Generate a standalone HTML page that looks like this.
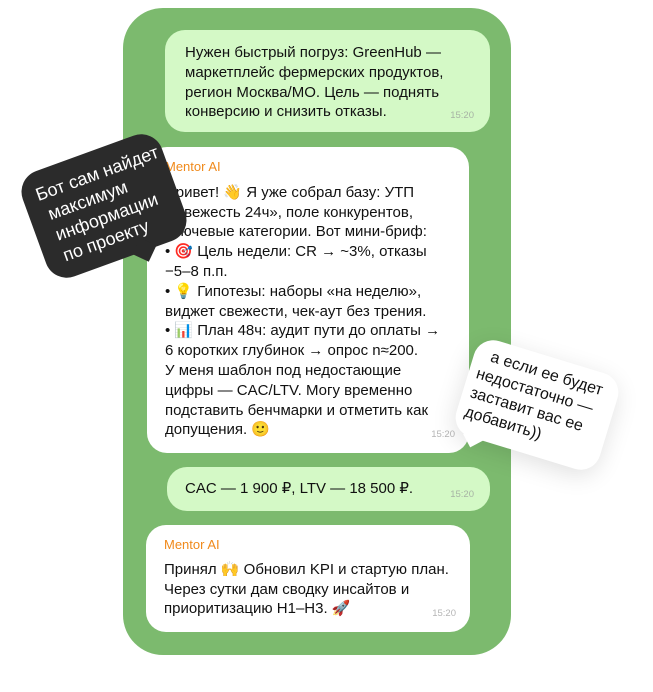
<!DOCTYPE html>
<html><head><meta charset="utf-8"><style>
*{margin:0;padding:0;box-sizing:border-box}
body{width:653px;height:692px;background:#fff;position:relative;overflow:hidden;font-family:"Liberation Sans","DejaVu Sans",sans-serif;color:#111}
.panel{position:absolute;left:123px;top:8px;width:388px;height:647px;background:#7cba6e;border-radius:40px}
.b{position:absolute;border-radius:20px;font-size:15px;line-height:19.8px}
.g{background:#d4f9c6}
.w{background:#fff}
.t{position:absolute;font-size:9.5px;color:#a7b3a4}
.w .t{color:#b5b5b5}
.n{color:#f08a1c;font-size:13px;margin-bottom:6px}
.tx{position:absolute}
.stk{position:absolute;font-size:17px;line-height:21px}
</style></head><body>
<div class="panel"></div>

<div class="b g" style="left:165px;top:30px;width:325px;height:102px;">
 <div class="tx" style="left:20px;top:13px;width:300px">Нужен быстрый погруз: GreenHub —<br>маркетплейс фермерских продуктов,<br>регион Москва/МО. Цель — поднять<br>конверсию и снизить отказы.</div>
 <div class="t" style="right:16px;bottom:6px">15:20</div>
</div>

<div class="b w" style="left:147px;top:147px;width:322px;height:306px;">
 <div class="tx" style="left:18px;top:10px;width:300px"><div class="n">Mentor AI</div>
 Привет! 👋 Я уже собрал базу: УТП<br>«Свежесть 24ч», поле конкурентов,<br>ключевые категории. Вот мини-бриф:<br>• 🎯 Цель недели: CR → ~3%, отказы<br>−5–8 п.п.<br>• 💡 Гипотезы: наборы «на неделю»,<br>виджет свежести, чек-аут без трения.<br>• 📊 План 48ч: аудит пути до оплаты →<br>6 коротких глубинок → опрос n≈200.<br>У меня шаблон под недостающие<br>цифры — CAC/LTV. Могу временно<br>подставить бенчмарки и отметить как<br>допущения. 🙂</div>
 <div class="t" style="right:14px;bottom:8px">15:20</div>
</div>

<div class="b g" style="left:167px;top:467px;width:323px;height:44px;">
 <div class="tx" style="left:18px;top:12px">CAC — 1 900 ₽, LTV — 18 500 ₽.</div>
 <div class="t" style="right:16px;bottom:6px">15:20</div>
</div>

<div class="b w" style="left:146px;top:525px;width:324px;height:107px;">
 <div class="tx" style="left:18px;top:10px;width:300px"><div class="n" style="margin-bottom:5px">Mentor AI</div>
 Принял 🙌 Обновил KPI и стартую план.<br>Через сутки дам сводку инсайтов и<br>приоритизацию H1–H3. 🚀</div>
 <div class="t" style="right:14px;bottom:8px">15:20</div>
</div>

<div style="position:absolute;left:30px;top:150px;width:148px;height:112px;background:#2b2b2b;border-radius:22px;transform:rotate(-20deg);">
 <div style="position:absolute;left:88px;bottom:-8px;width:18px;height:18px;background:#2b2b2b;transform:rotate(45deg)"></div>
 <div class="stk" style="left:14px;top:12px;width:140px;color:#fff;font-size:18px;line-height:22px">Бот сам найдет<br>&nbsp;максимум<br>&nbsp;информации<br>&nbsp;по проекту</div>
</div>

<div style="position:absolute;left:462px;top:355px;width:150px;height:100px;background:#fff;border-radius:20px;transform:rotate(17deg);box-shadow:0 6px 24px rgba(0,0,0,.12)">
 <div style="position:absolute;left:16px;bottom:-7px;width:15px;height:15px;background:#fff;transform:rotate(45deg)"></div>
 <div class="stk" style="left:8px;top:8px;width:150px;color:#111;font-size:16px;line-height:20px">&nbsp;&nbsp;а если ее будет<br>недостаточно —<br>заставит вас ее<br>добавить))</div>
</div>
</body></html>
